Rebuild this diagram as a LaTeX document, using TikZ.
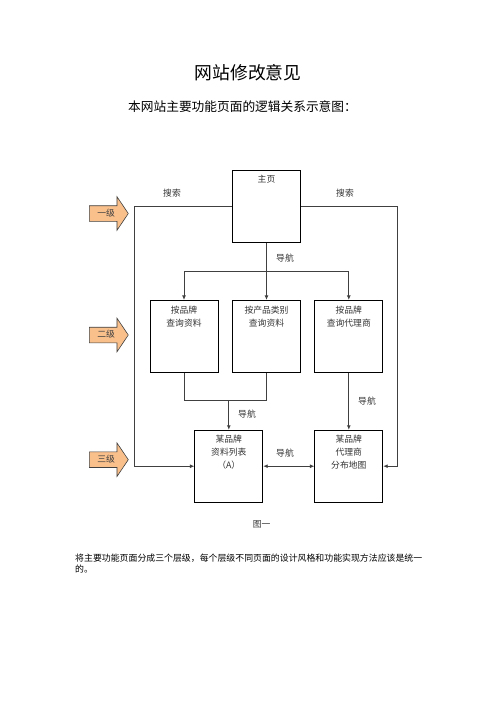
\documentclass[tikz,border=0pt]{standalone}
\usepackage{fontspec}
\setmainfont{Noto Sans CJK SC}
\usetikzlibrary{shapes.arrows, arrows.meta, positioning}
\definecolor{levelfill}{HTML}{F9C08C}
\tikzstyle{page} = [rectangle, draw=black, line width=0.8pt, minimum width=68pt, minimum height=72pt, inner sep=0pt]
\tikzstyle{pagetext} = [anchor=north, align=center, font=\fontsize{8.8}{13}\selectfont, text=black!80, inner sep=0pt]
\tikzstyle{level} = [single arrow, anchor=tail, draw=black!75, fill=levelfill, line width=0.6pt, single arrow head extend=9pt, single arrow tip angle=112, minimum height=39pt, text height=6.5pt, text depth=1.5pt, inner ysep=3.5pt, inner xsep=2pt, font=\fontsize{8.8}{10}\selectfont, text=black!75]
\tikzstyle{tag} = [font=\fontsize{8.8}{10}\selectfont, text=black!80, inner sep=0pt]
\tikzstyle{link} = [draw=black!75, line width=1pt]
\tikzstyle{arrow} = [link, -{Latex[length=4.5pt,width=4pt]}]

\begin{document}
\begin{tikzpicture}[x=1pt, y=-1pt]
\useasboundingbox (0,0) rectangle (496,702);

\node (title) at (248,72.3) [font=\fontsize{17.8}{20}\selectfont] {网站修改意见};
\node (subtitle) at (242.5,106.7) [font=\fontsize{12.7}{15}\selectfont] {本网站主要功能页面的逻辑关系示意图：};

% pages
\node (home) at (266.5,206.3) [page] {};
\node (brand) at (184,336.3) [page] {};
\node (category) at (266.5,336.3) [page] {};
\node (dealer) at (348.8,336.3) [page] {};
\node (list) at (228.8,466.2) [page] {};
\node (map) at (348.8,466.2) [page] {};

\node at ([yshift=-5.5pt]home.north) [pagetext] {主页};
\node at ([yshift=-5.5pt]brand.north) [pagetext] {按品牌\\查询资料};
\node at ([yshift=-5.5pt]category.north) [pagetext] {按产品类别\\查询资料};
\node at ([yshift=-5.5pt]dealer.north) [pagetext] {按品牌\\查询代理商};
\node at ([yshift=-5.5pt]list.north) [pagetext] {某品牌\\资料列表\\（A）};
\node at ([yshift=-5.5pt]map.north) [pagetext] {某品牌\\代理商\\分布地图};

% levels
\node (lv1) at (89,213.5) [level] {一级};
\node (lv2) at (89,335) [level] {二级};
\node (lv3) at (89,459.7) [level] {三级};

% connectors
\coordinate (nav1) at (266.5,271);
\coordinate (nav2) at (228.8,400.7);
\draw [arrow] (home.south) -- (category.north);
\draw [arrow] (nav1) -| (brand.north);
\draw [arrow] (nav1) -| (dealer.north);
\draw [link] (brand.south) |- (nav2);
\draw [link] (category.south) |- (nav2);
\draw [arrow] (nav2) -- (list.north);
\draw [arrow] (dealer.south) -- (map.north);
\draw [arrow] (home.west) -- ++(-97.3,0) |- (list.west);
\draw [arrow] (home.east) -- ++(97,0) |- (map.east);
\draw [link, {Latex[length=4.5pt,width=4pt]}-{Latex[length=4.5pt,width=4pt]}] (list.east) -- (map.west);

% labels
\node (search1) at (172,193) [tag] {搜索};
\node (search2) at (345,193) [tag] {搜索};
\node (navA) at (285,258) [tag] {导航};
\node (navB) at (247,414) [tag] {导航};
\node (navC) at (367,400.7) [tag] {导航};
\node (navD) at (285,452.7) [tag] {导航};
\node (caption) at (261.7,524) [tag] {图一};

\node (note) at (75,563.8) [anchor=west, align=left, font=\fontsize{8.9}{11}\selectfont, inner sep=0pt] {将主要功能页面分成三个层级，每个层级不同页面的设计风格和功能实现方法应该是统一\\的。};

\end{tikzpicture}
\end{document}
